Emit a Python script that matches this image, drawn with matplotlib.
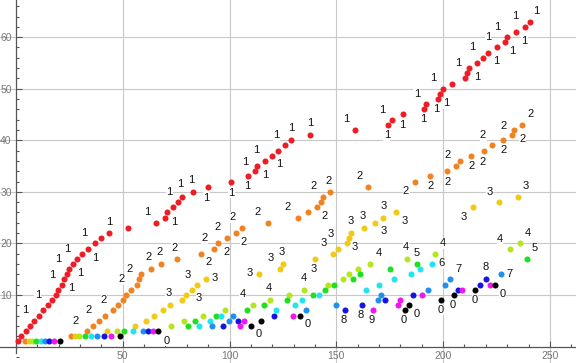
import numpy as np
import matplotlib
matplotlib.use("Agg")
import matplotlib.pyplot as plt
from matplotlib.ticker import MultipleLocator, FixedLocator

# x position of the k-th occurrence of each digit (the point sits at y = k)
x_one = [1, 2.5, 4.9, 6.8, 8.6, 11, 12.8, 14.9, 16.8, 18.8, 19.9, 21.6, 22.7, 23.8, 25,
         26.9, 28.8, 30.8, 33.9, 36.9, 40, 43.7, 52.6, 65.6, 69.8, 70.9, 73.7, 76, 77.9, 83.1,
         90.1, 100.8, 108.8, 112.1, 113, 116.8, 120, 122.8, 126.1, 128.9, 137.8, 158.9, 174.3,
         176.2, 181.4, 191.2, 192.1, 197.5, 198.4, 200.1, 204.3, 210.4, 211.3, 212.3, 216,
         218.5, 221.2, 225.4, 229.1, 230, 234.2, 238.5, 240.5]
x_two = [4.1, 25.6, 33.1, 35.9, 38.8, 41.9, 45.6, 47.8, 50, 51.5, 54, 56.8, 57.8, 58.7, 63.1,
         68.1, 75.3, 86.8, 92.9, 94.8, 99, 103.2, 106, 118.2, 132.2, 136.9, 141.1, 143, 143.9,
         147.2, 165, 187, 194, 201.9, 206.2, 208, 213.2, 219.3, 223, 228.2, 232.4, 233.3, 237.1]
x_three = [6, 27.5, 42.8, 55.8, 60.9, 64.7, 69, 72.1, 77.6, 79.8, 82.3, 84.9, 89.1, 113.9,
           123.8, 125.2, 140.2, 148.6, 151, 155.1, 156, 157, 163.1, 168.3, 172, 178.1, 214.1,
           226.3, 235.2]
x_four = [7.7, 29.4, 47.1, 72.8, 78.7, 87.8, 98, 111.1, 119.1, 128, 135, 146.3, 153.3, 156.1,
          160.3, 165.9, 183.2, 196.3, 231.5, 236.1]
x_five = [9.5, 32.2, 50.8, 80.8, 84, 93.8, 108, 116, 127.1, 139.2, 144.9, 149.1, 158, 161.2,
          175.3, 187.9, 239.4]
x_six = [11.7, 35, 55, 85.9, 91, 96.2, 121.9, 130.8, 134.1, 142, 164, 170.1, 177.2, 185.1,
         189.3, 195]
x_seven = [13.6, 37.8, 59.5, 91.9, 99.9, 101.8, 135.9, 150, 169.4, 171.1, 193.1, 201, 203.4, 227.2]
x_eight = [15.6, 41.2, 62, 97.1, 104.1, 121, 154.2, 162.2, 173, 186, 207.1, 217.4, 220.2]
x_nine = [17.9, 44.6, 64, 105.1, 106.9, 129.9, 167.3, 179, 179.9, 190.3, 209, 222.1]
x_zero = [20.8, 48.9, 66.7, 110.2, 114.9, 133.1, 182.3, 184.2, 199.2, 205.3, 215.1, 224.4]

series = {1: x_one, 2: x_two, 3: x_three, 4: x_four, 5: x_five,
          6: x_six, 7: x_seven, 8: x_eight, 9: x_nine, 0: x_zero}
colors = {1: "#ee1c24", 2: "#f18221", 3: "#f2c914", 4: "#b5e51d", 5: "#1ee01e",
          6: "#22e4ef", 7: "#1f8ff0", 8: "#1515e0", 9: "#ee18ee", 0: "#000000"}

# callout labels: (index of point, dx px, dy px)
callouts = {
    1: [(5, -9, 11), (8, -10, 10), (12, -9.5, 10), (15, -11, 10), (17, -10, 10), (15, 11, -4),
        (11, 13, 1.5), (20, -10, 10), (18, 14, -4), (22, -0.5, 11), (24, -9, 10.5), (28, -9, 10.5),
        (25, 9, -4), (29, -2, 13), (30, -2, 12), (31, -2, -11), (32, 0, -11), (33, -1, -10),
        (34, 10, -3.5), (35, -12, 4.5), (36, -9, 11), (37, 7, -8), (39, -9, 10), (40, 0, 12),
        (41, 0, 12), (42, -9, 11), (44, -10, 10), (45, -1.5, -11), (43, -1.5, -10.5),
        (47, -9.5, 10), (46, -1.3, -9.3), (48, -2, -10), (49, 7, -9.4), (50, -10, 10.4),
        (53, -9.5, 10), (52, 11.4, 1), (56, -10, 10.5), (56, 13.4, -3.5), (58, -9.4, 10),
        (60, -9.5, 10.5), (59, 7.4, -9), (61, 8, -9.3), (62, -10.6, 11), (63, 7, 10.4)],
    2: [(3, -10.6, 10.3), (5, -10, 10.7), (7, -9.3, 10), (11, -10, 10.5), (13, -9.4, 10),
        (15, -1.7, 12), (16, -1.4, 12), (17, -2, 11), (18, 7.7, -8.6), (19, -9.6, 10.3),
        (20, 8.3, -9), (21, -9.4, 11), (22, 7.4, -9.2), (23, -9.3, 10.6), (24, -10.4, 10.5),
        (25, -11, 10.3), (27, 7.4, -8.7), (29, -9.3, 11), (30, -1.3, 11), (31, -9.3, 10.7),
        (32, -9.3, -9.2), (33, 0, -9.6), (34, 0, -10.5), (35, -9.3, 10.8), (37, 0, -10.5),
        (38, -1.3, -11), (39, -9.2, 10), (40, 0, -10), (41, -9, 9.4), (42, 7.8, -9.3),
        (43, 8.6, 10.5)],
    3: [(8, -1, 12), (12, -9.2, 10), (10, 12.6, -3.5), (13, 8.8, 1), (14, -10, 1),
        (15, -9.6, 11), (16, -1.6, 11.7), (17, -1.4, -10.4), (18, -10, 10.4), (19, -7.7, 15),
        (20, 7, -4), (22, -0.6, 11.8), (23, -2, 12), (25, 0, 11.3), (26, 8, -8.8),
        (24, 7.9, -8.5), (27, -9.2, -9.4), (28, -9.6, 9.9), (29, 7.4, 11)],
    4: [(8, -10.5, 11), (9, -1.5, 11.8), (11, 0, 11.3), (16, 8.7, 11), (17, -1.2, 11.6),
        (18, 7.8, 10.4), (19, -10.4, 9.6), (20, 7.8, 10)],
    5: [(16, -0.5, 11.5), (17, 7.7, 10.6)],
    6: [(16, 9.3, 0.5)],
    7: [(13, 7.8, 10.2), (14, 8.3, 0.5)],
    8: [(7, -1.8, -10), (8, -1.9, -10), (13, -0.4, 12)],
    9: [(7, -1.6, -10)],
    0: [(3, 8.3, -9.7), (4, 7.2, -8.4), (6, 7.3, -8.6), (7, -2, -10), (8, 7.3, -8.7),
        (9, -0.4, -10), (10, -1.7, -10), (11, -0.3, -10.7), (12, 7.3, -8.9)],
}

fig = plt.figure(figsize=(5.76, 3.63), dpi=100)
ax = fig.add_axes([0, 0, 1, 1])

for d in [1, 2, 3, 4, 5, 6, 7, 8, 9, 0]:
    xs = series[d]
    ys = np.arange(1, len(xs) + 1)
    ax.scatter(xs, ys, s=19, color=colors[d], linewidths=0, zorder=3)
    for k, dx, dy in callouts[d]:
        ax.annotate(str(d), (xs[k - 1], k), xytext=(dx, dy), textcoords="offset pixels",
                    ha="center", va="center", fontsize=8, family="Liberation Sans",
                    color="#111111", zorder=2,
                    bbox=dict(fc="white", ec="none", pad=0.2))

ax.set_xlim(-7.44, 262.2)
ax.set_ylim(-3.2, 67.2)

for s in ["top", "right"]:
    ax.spines[s].set_visible(False)
ax.spines["left"].set_position(("data", 0))
ax.spines["bottom"].set_position(("data", 0))
ax.spines["left"].set_bounds(-1.3, 67.2)
for s in ["left", "bottom"]:
    ax.spines[s].set_color("#555555")
    ax.spines[s].set_linewidth(0.9)

ax.xaxis.set_major_locator(FixedLocator([50, 100, 150, 200, 250]))
ax.xaxis.set_minor_locator(MultipleLocator(10))
ax.yaxis.set_major_locator(FixedLocator([10, 20, 30, 40, 50, 60]))
ax.yaxis.set_minor_locator(MultipleLocator(2))
ax.tick_params(which="both", direction="in", color="#555555", labelcolor="#777777",
               labelsize=7.5, width=0.8)
ax.tick_params(which="major", length=4, pad=3)
ax.tick_params(which="minor", length=2.3)
for lab in ax.get_xticklabels() + ax.get_yticklabels():
    lab.set_family("Liberation Sans")

ax.grid(True, which="major", color="#c8c8c8", linewidth=0.8, zorder=0)
ax.set_axisbelow(True)

fig.savefig("out.png", dpi=100)
